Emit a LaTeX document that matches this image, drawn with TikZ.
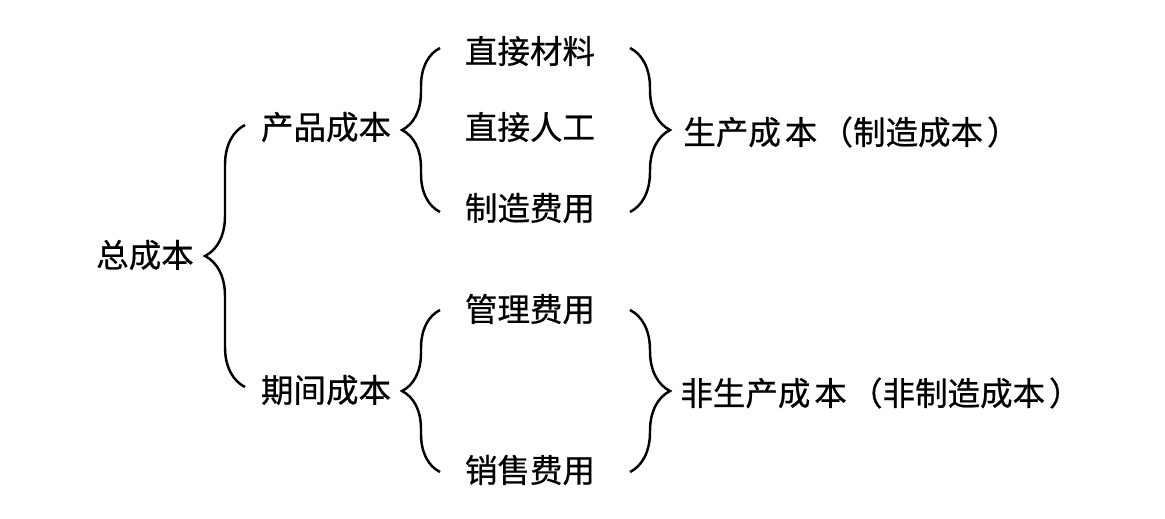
\documentclass[tikz,border=0pt]{standalone}
\usepackage{fontspec}
\newfontfamily\cjk[FakeBold=0.6]{Noto Sans CJK SC}
\usepackage{tikz}
\usetikzlibrary{positioning,calc,decorations.pathreplacing}

\tikzset{
    label/.style={font=\cjk\fontsize{18.5}{20}\selectfont, inner sep=0pt},
    curly/.style={decorate, decoration={brace, amplitude=#1}, line width=1.4pt},
}

\begin{document}
\begin{tikzpicture}
    \useasboundingbox (0, 0) rectangle (23.3, -10.36);

    % Total cost
    \node [label] (total) at (2.9, -5.1) {总成本};
    \coordinate (bigtop) at (4.9, -2.5);
    \coordinate (bigbot) at (4.9, -7.74);
    \draw [curly=0.8cm] (bigbot) -- (bigtop);

    % Product cost
    \node [label] (prod) at (6.52, -2.54) {产品成本};
    \node [label] (mat) at (10.6, -1.02) {直接材料};
    \node [label] (lab) at (10.6, -2.54) {直接人工};
    \node [label] (ovh) at (10.6, -4.16) {制造费用};
    \coordinate (pltop) at (8.8, -0.96);
    \coordinate (plbot) at (8.8, -4.24);
    \coordinate (prtop) at (12.6, -0.96);
    \coordinate (prbot) at (12.6, -4.24);
    \draw [curly=0.76cm] (plbot) -- (pltop);
    \draw [curly=0.8cm] (prtop) -- (prbot);
    \node [label, anchor=west] (mfg) at (13.66, -2.64) {生产成\hspace{0.12em}本\hspace{0.1em}（制造成本\hspace{0.12em}）};

    % Period cost
    \node [label] (period) at (6.52, -7.8) {期间成本};
    \node [label] (adm) at (10.6, -6.18) {管理费用};
    \node [label] (sel) at (10.6, -9.4) {销售费用};
    \coordinate (qltop) at (8.8, -6.2);
    \coordinate (qlbot) at (8.8, -9.44);
    \coordinate (qrtop) at (12.6, -6.2);
    \coordinate (qrbot) at (12.6, -9.44);
    \draw [curly=0.76cm] (qlbot) -- (qltop);
    \draw [curly=0.8cm] (qrtop) -- (qrbot);
    \node [label, anchor=west] (nonmfg) at (13.6, -7.86) {非生产成\hspace{0.12em}本\hspace{0.1em}（非制造成本\hspace{0.12em}）};
\end{tikzpicture}
\end{document}
